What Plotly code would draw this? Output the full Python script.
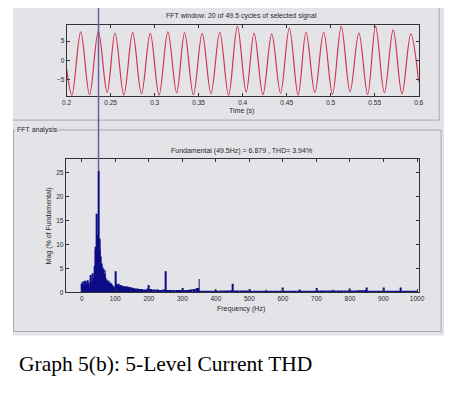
import plotly.graph_objects as go

# page body has an 8px default margin, so the figure is drawn 8px in from the window corner
OFF = 8
W, H = 452 - OFF, 395 - OFF

# ---------------- data ----------------
# time-domain signal: start, alternating troughs / peaks, end
trough_t = [0.206, 0.226, 0.246, 0.265, 0.285, 0.305, 0.325, 0.344, 0.364, 0.384,
            0.404, 0.423, 0.443, 0.463, 0.482, 0.502, 0.522, 0.542, 0.561, 0.581]
trough_v = [-8.9, -8.8, -8.2, -8.9, -8.6, -8.9, -8.3, -8.8, -8.5, -8.9,
            -8.1, -8.8, -8.4, -8.9, -8.2, -8.7, -8.0, -8.8, -8.3, -8.6]
peak_t = [0.216, 0.236, 0.255, 0.275, 0.295, 0.315, 0.334, 0.354, 0.374, 0.394,
          0.413, 0.433, 0.453, 0.472, 0.492, 0.512, 0.532, 0.551, 0.571, 0.591]
peak_v = [7.4, 7.5, 7.1, 7.2, 7.0, 7.4, 7.2, 7.0, 7.3, 8.8,
          7.1, 6.9, 8.4, 7.3, 7.3, 8.8, 7.1, 8.8, 7.9, 6.9]
start_t, start_v = 0.2, -2.2
end_t, end_v = 0.6, -5.5

time_ticks = [0.2, 0.25, 0.3, 0.35, 0.4, 0.45, 0.5, 0.55, 0.6]
time_ticklabels = ["0.2", "0.25", "0.3", "0.35", "0.4", "0.45", "0.5", "0.55", "0.6"]
cur_ticks = [-5, 0, 5]

# spectrum, 0..200 Hz at 2.5 Hz resolution
low_freqs = [i * 2.5 for i in range(81)]
low_mags = [1.8, 2.2, 1.5, 2.4, 1.9, 2.3, 1.6, 2.5, 2.0, 1.2,
            2.8, 3.6, 2.2, 4.0, 3.0, 5.5, 8.8, 9.5, 16.4, 12.0,
            25.4, 11.2, 9.0, 7.5, 6.0, 5.2, 4.8, 3.8, 4.6, 3.0,
            2.6, 2.2, 2.4, 1.8, 2.0, 1.6, 1.7, 1.4, 1.2, 1.0,
            4.4, 2.0, 1.7, 1.5, 1.8, 1.3, 1.5, 1.2, 1.4, 1.1,
            1.3, 1.2, 1.1, 1.3, 1.0, 1.2, 1.0, 1.1, 0.9, 1.0,
            1.0, 0.8, 0.9, 0.7, 0.8, 0.7, 0.6, 0.8, 0.6, 0.7,
            0.6, 0.7, 0.6, 0.6, 0.5, 0.6, 0.5, 0.6, 0.6, 0.8,
            1.5]
# noise floor 200..1000 Hz (10 Hz bins)
floor_freqs = list(range(205, 1000, 10))
floor_mags = [0.7, 0.6, 0.6, 0.5, 0.6, 0.5, 0.5, 0.5, 0.5, 0.5,
              0.5, 0.5, 0.6, 0.7, 0.9, 0.3, 0.3, 0.3, 0.3, 0.3,
              0.3, 0.35, 0.35, 0.35, 0.4, 0.35, 0.35, 0.35, 0.35, 0.35,
              0.3, 0.3, 0.3, 0.3, 0.3, 0.3, 0.3, 0.3, 0.3, 0.3,
              0.3, 0.3, 0.3, 0.3, 0.3, 0.3, 0.3, 0.3, 0.3, 0.3,
              0.35, 0.35, 0.35, 0.35, 0.35, 0.35, 0.35, 0.35, 0.35, 0.35,
              0.35, 0.35, 0.4, 0.4, 0.5, 0.3, 0.3, 0.3, 0.3, 0.3,
              0.3, 0.3, 0.3, 0.3, 0.3, 0.3, 0.3, 0.3, 0.3, 0.3]
# harmonic spikes
spike_freqs = [250, 300, 350, 400, 450, 500, 550, 600, 650, 700, 750, 800, 850, 900, 950]
spike_mags = [4.4, 0.9, 2.8, 0.6, 1.8, 0.7, 0.6, 1.0, 0.6, 0.9, 0.6, 0.8, 1.0, 1.0, 1.0]

freq_ticks = [0, 100, 200, 300, 400, 500, 600, 700, 800, 900, 1000]
mag_ticks = [0, 5, 10, 15, 20, 25]
cursor_freq = 50

# ---------------- build signal sequence ----------------
sig_t = [start_t]
sig_v = [start_v]
for k in range(len(trough_t)):
    sig_t += [trough_t[k], peak_t[k]]
    sig_v += [trough_v[k], peak_v[k]]
sig_t.append(end_t)
sig_v.append(end_v)


def px(x):
    return (x - OFF) / W


def py(y):
    return 1 - (y - OFF) / H


FONT = "Liberation Sans"
TXT = "#2a2a2a"
AX = "#333333"
BAR = "#0c0c86"

fig = go.Figure()
fig.add_trace(go.Scatter(x=sig_t, y=sig_v, mode="lines",
                         line=dict(color="#cf3550", width=1.2, shape="spline", smoothing=1.0),
                         xaxis="x", yaxis="y", hoverinfo="skip"))
fig.add_trace(go.Bar(x=floor_freqs, y=floor_mags, width=10, marker=dict(color=BAR, line=dict(width=0)),
                     xaxis="x2", yaxis="y2"))
fig.add_trace(go.Bar(x=low_freqs, y=low_mags, width=2.5, marker=dict(color=BAR, line=dict(width=0)),
                     xaxis="x2", yaxis="y2"))
fig.add_trace(go.Bar(x=spike_freqs, y=spike_mags, width=2.5, marker=dict(color=BAR, line=dict(width=0)),
                     xaxis="x2", yaxis="y2"))

axcommon = dict(showline=True, linecolor=AX, linewidth=1, mirror="ticks", ticks="inside",
                ticklen=3, tickcolor=AX, showgrid=False, zeroline=False,
                tickfont=dict(family=FONT, size=6.5, color=TXT))

fig.update_layout(
    width=W, height=H,
    margin=dict(l=0, r=0, t=0, b=0),
    paper_bgcolor="white", plot_bgcolor="white",
    showlegend=False, barmode="overlay",
    xaxis=dict(domain=[px(63), px(424)], range=[0.2, 0.6], tickvals=time_ticks,
               ticktext=time_ticklabels, anchor="y", **axcommon),
    yaxis=dict(domain=[py(97), py(25)], range=[-9.2, 9.2], tickvals=cur_ticks,
               anchor="x", **axcommon),
    xaxis2=dict(domain=[px(62), px(424)], range=[-48, 1005], tickvals=freq_ticks,
                anchor="y2", **axcommon),
    yaxis2=dict(domain=[py(294.5), py(160)], range=[0, 27.9], tickvals=mag_ticks,
                anchor="x2", **axcommon),
)

GRAY = "#e3e3e8"
EDGE = "#a8a8b0"
shapes = [
    dict(type="rect", xref="paper", yref="paper", x0=0, x1=1, y0=py(338), y1=py(5),
         fillcolor=GRAY, line=dict(width=0), layer="below"),
    # top panel edges
    dict(type="line", xref="paper", yref="paper", x0=px(445), x1=px(445), y0=py(121), y1=py(5),
         line=dict(color=EDGE, width=1)),
    dict(type="line", xref="paper", yref="paper", x0=px(8), x1=px(445), y0=py(121), y1=py(121),
         line=dict(color=EDGE, width=1)),
    # FFT analysis panel
    dict(type="line", xref="paper", yref="paper", x0=px(8.5), x1=px(8.5), y0=py(334), y1=py(131),
         line=dict(color=EDGE, width=1)),
    dict(type="line", xref="paper", yref="paper", x0=px(8), x1=px(447), y0=py(334), y1=py(334),
         line=dict(color=EDGE, width=1)),
    dict(type="line", xref="paper", yref="paper", x0=px(447), x1=px(447), y0=py(334), y1=py(131),
         line=dict(color=EDGE, width=1)),
    dict(type="line", xref="paper", yref="paper", x0=px(8), x1=px(10), y0=py(131), y1=py(131),
         line=dict(color=EDGE, width=1)),
    dict(type="line", xref="paper", yref="paper", x0=px(51), x1=px(447), y0=py(131), y1=py(131),
         line=dict(color=EDGE, width=1)),
    # cursor line at the fundamental
    dict(type="line", xref="x2", yref="paper", x0=cursor_freq, x1=cursor_freq,
         y0=py(172), y1=1, line=dict(color="#6a5ea0", width=1.5)),
]
fig.update_layout(shapes=shapes)


def ann(text, x, y, size=7, angle=0, xanchor="center", family=FONT, color=TXT):
    return dict(text=text, x=px(x), y=py(y), xref="paper", yref="paper", showarrow=False,
                xanchor=xanchor, yanchor="middle", textangle=angle, borderpad=0,
                font=dict(family=family, size=size, color=color))


fig.update_layout(annotations=[
    ann("FFT window: 20 of 49.5 cycles of selected signal", 242, 16),
    ann("Time (s)", 242, 112),
    ann("FFT analysis", 11, 131, xanchor="left"),
    ann("Fundamental (49.5Hz) = 6.879 , THD= 3.94%", 242, 152),
    ann("Mag (% of Fundamental)", 45, 228, angle=-90),
    ann("Frequency (Hz)", 242, 311),
    ann("Graph 5(b): 5-Level Current THD", 13, 367, size=21.5, xanchor="left",
        family="Liberation Serif", color="#000000"),
])

fig.write_html("out.html")
